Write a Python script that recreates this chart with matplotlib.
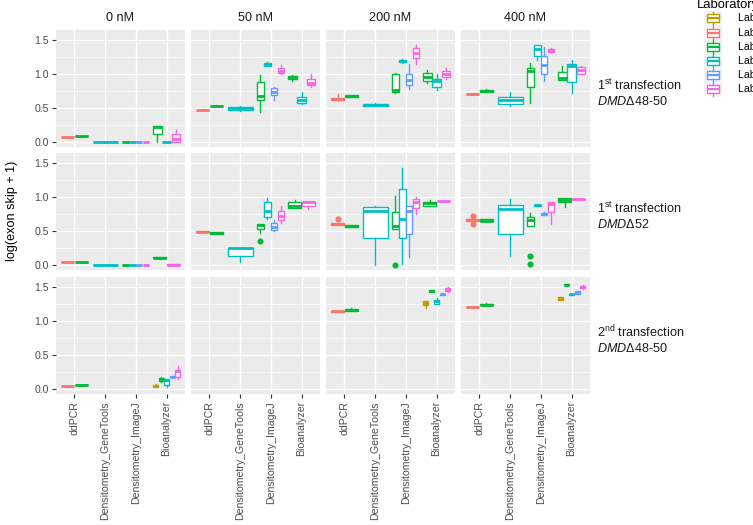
import matplotlib
matplotlib.use("Agg")
import matplotlib.pyplot as plt
from matplotlib.patches import Rectangle

plt.rcParams['font.family'] = ['Liberation Sans', 'DejaVu Sans']
plt.rcParams['mathtext.fontset'] = 'custom'
plt.rcParams['mathtext.rm'] = 'Liberation Sans'
plt.rcParams['mathtext.it'] = 'Liberation Sans:italic'

# ---------------- data ----------------
CATEGORIES = ["ddPCR", "Densitometry_GeneTools", "Densitometry_ImageJ", "Bioanalyzer"]
CONCS = ["0 nM", "50 nM", "200 nM", "400 nM"]
ROW_LINE1 = [r"1$^{\rm st}$ transfection", r"1$^{\rm st}$ transfection", r"2$^{\rm nd}$ transfection"]
ROW_LINE2 = [r"$\it{DMD}$Δ48-50", r"$\it{DMD}$Δ52", r"$\it{DMD}$Δ48-50"]
LABS = ["Lab 1", "Lab 2", "Lab 3", "Lab 4", "Lab 5", "Lab 6"]
LAB_COLORS = ["#B79F00", "#F8766D", "#00BA38", "#00BFC4", "#619CFF", "#F564E3"]
Y_TICKS = [0.0, 0.5, 1.0, 1.5]
Y_TICK_LABELS = ["0.0", "0.5", "1.0", "1.5"]

# each entry: (category, lab, whisker_low, q1, median, q3, whisker_high, outliers)
r1_0nM = [
    ("ddPCR", "Lab 2", 0.065, 0.068, 0.07, 0.072, 0.075, []),
    ("ddPCR", "Lab 3", 0.075, 0.078, 0.08, 0.082, 0.085, []),
    ("Densitometry_GeneTools", "Lab 4", 0, 0, 0, 0, 0, []),
    ("Densitometry_ImageJ", "Lab 3", 0, 0, 0, 0, 0, []),
    ("Densitometry_ImageJ", "Lab 4", 0, 0, 0, 0, 0, []),
    ("Densitometry_ImageJ", "Lab 5", 0, 0, 0, 0, 0, []),
    ("Densitometry_ImageJ", "Lab 6", 0, 0, 0, 0, 0, []),
    ("Bioanalyzer", "Lab 3", 0.0, 0.12, 0.21, 0.23, 0.23, []),
    ("Bioanalyzer", "Lab 4", 0, 0, 0, 0, 0, []),
    ("Bioanalyzer", "Lab 6", 0.0, 0.0, 0.04, 0.11, 0.17, []),
]
r1_50nM = [
    ("ddPCR", "Lab 2", 0.465, 0.468, 0.47, 0.472, 0.475, []),
    ("ddPCR", "Lab 3", 0.525, 0.528, 0.53, 0.532, 0.535, []),
    ("Densitometry_GeneTools", "Lab 4", 0.45, 0.47, 0.49, 0.51, 0.52, []),
    ("Densitometry_ImageJ", "Lab 3", 0.44, 0.62, 0.67, 0.88, 0.98, []),
    ("Densitometry_ImageJ", "Lab 4", 1.11, 1.12, 1.14, 1.16, 1.17, []),
    ("Densitometry_ImageJ", "Lab 5", 0.62, 0.69, 0.74, 0.79, 0.81, []),
    ("Densitometry_ImageJ", "Lab 6", 1.0, 1.01, 1.04, 1.08, 1.13, []),
    ("Bioanalyzer", "Lab 3", 0.90, 0.93, 0.95, 0.97, 0.98, []),
    ("Bioanalyzer", "Lab 4", 0.56, 0.57, 0.61, 0.66, 0.74, []),
    ("Bioanalyzer", "Lab 6", 0.80, 0.83, 0.87, 0.92, 1.0, []),
]
r1_200nM = [
    ("ddPCR", "Lab 2", 0.60, 0.61, 0.63, 0.65, 0.71, []),
    ("ddPCR", "Lab 3", 0.66, 0.665, 0.67, 0.685, 0.69, []),
    ("Densitometry_GeneTools", "Lab 4", 0.525, 0.53, 0.545, 0.555, 0.565, []),
    ("Densitometry_ImageJ", "Lab 3", 0.72, 0.74, 0.76, 1.0, 1.02, []),
    ("Densitometry_ImageJ", "Lab 4", 1.16, 1.17, 1.19, 1.21, 1.22, []),
    ("Densitometry_ImageJ", "Lab 5", 0.78, 0.83, 0.91, 1.0, 1.14, []),
    ("Densitometry_ImageJ", "Lab 6", 1.15, 1.24, 1.31, 1.38, 1.43, []),
    ("Bioanalyzer", "Lab 3", 0.87, 0.90, 0.96, 1.01, 1.05, []),
    ("Bioanalyzer", "Lab 4", 0.76, 0.80, 0.89, 0.93, 1.0, []),
    ("Bioanalyzer", "Lab 6", 0.93, 0.95, 1.0, 1.04, 1.08, []),
]
r1_400nM = [
    ("ddPCR", "Lab 2", 0.695, 0.698, 0.70, 0.702, 0.705, []),
    ("ddPCR", "Lab 3", 0.735, 0.74, 0.75, 0.765, 0.77, []),
    ("Densitometry_GeneTools", "Lab 4", 0.53, 0.55, 0.62, 0.66, 0.73, []),
    ("Densitometry_ImageJ", "Lab 3", 0.57, 0.81, 1.04, 1.08, 1.16, []),
    ("Densitometry_ImageJ", "Lab 4", 1.21, 1.26, 1.37, 1.42, 1.43, []),
    ("Densitometry_ImageJ", "Lab 5", 0.90, 1.0, 1.13, 1.26, 1.39, []),
    ("Densitometry_ImageJ", "Lab 6", 1.32, 1.33, 1.35, 1.37, 1.38, []),
    ("Bioanalyzer", "Lab 3", 0.91, 0.91, 0.94, 1.03, 1.12, []),
    ("Bioanalyzer", "Lab 4", 0.72, 0.88, 1.12, 1.15, 1.2, []),
    ("Bioanalyzer", "Lab 6", 1.0, 1.0, 1.05, 1.10, 1.12, []),
]
r2_0nM = [
    ("ddPCR", "Lab 2", 0.035, 0.038, 0.04, 0.042, 0.045, []),
    ("ddPCR", "Lab 3", 0.035, 0.038, 0.04, 0.042, 0.045, []),
    ("Densitometry_GeneTools", "Lab 4", 0, 0, 0, 0, 0, []),
    ("Densitometry_ImageJ", "Lab 3", 0, 0, 0, 0, 0, []),
    ("Densitometry_ImageJ", "Lab 4", 0, 0, 0, 0, 0, []),
    ("Densitometry_ImageJ", "Lab 5", 0, 0, 0, 0, 0, []),
    ("Densitometry_ImageJ", "Lab 6", 0, 0, 0, 0, 0, []),
    ("Bioanalyzer", "Lab 3", 0.09, 0.10, 0.10, 0.11, 0.12, []),
    ("Bioanalyzer", "Lab 6", 0.0, 0.0, 0.0, 0.01, 0.01, []),
]
r2_50nM = [
    ("ddPCR", "Lab 2", 0.48, 0.48, 0.485, 0.49, 0.49, []),
    ("ddPCR", "Lab 3", 0.45, 0.455, 0.47, 0.48, 0.48, []),
    ("Densitometry_GeneTools", "Lab 4", 0.035, 0.13, 0.24, 0.245, 0.245, []),
    ("Densitometry_ImageJ", "Lab 3", 0.47, 0.525, 0.59, 0.60, 0.60, [0.35]),
    ("Densitometry_ImageJ", "Lab 4", 0.67, 0.70, 0.79, 0.92, 0.98, []),
    ("Densitometry_ImageJ", "Lab 5", 0.49, 0.515, 0.56, 0.62, 0.66, []),
    ("Densitometry_ImageJ", "Lab 6", 0.62, 0.66, 0.72, 0.79, 0.86, []),
    ("Bioanalyzer", "Lab 3", 0.83, 0.83, 0.86, 0.92, 0.95, []),
    ("Bioanalyzer", "Lab 6", 0.82, 0.87, 0.92, 0.93, 0.93, []),
]
r2_200nM = [
    ("ddPCR", "Lab 2", 0.59, 0.59, 0.60, 0.62, 0.62, [0.67]),
    ("ddPCR", "Lab 3", 0.56, 0.56, 0.57, 0.59, 0.59, []),
    ("Densitometry_GeneTools", "Lab 4", 0.0, 0.40, 0.79, 0.845, 0.87, []),
    ("Densitometry_ImageJ", "Lab 3", 0.525, 0.525, 0.575, 0.78, 1.01, [0.0]),
    ("Densitometry_ImageJ", "Lab 4", 0.01, 0.40, 0.68, 1.11, 1.42, []),
    ("Densitometry_ImageJ", "Lab 5", 0.12, 0.45, 0.79, 0.86, 0.86, []),
    ("Densitometry_ImageJ", "Lab 6", 0.745, 0.83, 0.92, 0.97, 1.0, []),
    ("Bioanalyzer", "Lab 3", 0.87, 0.87, 0.91, 0.93, 0.96, []),
    ("Bioanalyzer", "Lab 6", 0.93, 0.935, 0.94, 0.945, 0.95, []),
]
r2_400nM = [
    ("ddPCR", "Lab 2", 0.63, 0.64, 0.66, 0.68, 0.68, [0.60, 0.72]),
    ("ddPCR", "Lab 3", 0.64, 0.64, 0.65, 0.67, 0.67, []),
    ("Densitometry_GeneTools", "Lab 4", 0.13, 0.45, 0.82, 0.88, 0.97, []),
    ("Densitometry_ImageJ", "Lab 3", 0.575, 0.575, 0.66, 0.71, 0.76, [0.125, 0.01]),
    ("Densitometry_ImageJ", "Lab 4", 0.86, 0.865, 0.875, 0.885, 0.89, []),
    ("Densitometry_ImageJ", "Lab 5", 0.735, 0.74, 0.75, 0.765, 0.77, []),
    ("Densitometry_ImageJ", "Lab 6", 0.60, 0.77, 0.90, 0.93, 0.93, []),
    ("Bioanalyzer", "Lab 3", 0.85, 0.92, 0.96, 0.99, 0.99, []),
    ("Bioanalyzer", "Lab 6", 0.96, 0.965, 0.97, 0.975, 0.98, []),
]
r3_0nM = [
    ("ddPCR", "Lab 2", 0.03, 0.033, 0.035, 0.037, 0.04, []),
    ("ddPCR", "Lab 3", 0.045, 0.048, 0.05, 0.052, 0.055, []),
    ("Bioanalyzer", "Lab 1", 0.025, 0.03, 0.045, 0.06, 0.065, []),
    ("Bioanalyzer", "Lab 3", 0.10, 0.11, 0.15, 0.16, 0.18, []),
    ("Bioanalyzer", "Lab 4", 0.02, 0.06, 0.13, 0.145, 0.145, []),
    ("Bioanalyzer", "Lab 5", 0.17, 0.17, 0.18, 0.19, 0.19, []),
    ("Bioanalyzer", "Lab 6", 0.15, 0.17, 0.26, 0.27, 0.33, []),
]
r3_50nM = []
r3_200nM = [
    ("ddPCR", "Lab 2", 1.13, 1.13, 1.14, 1.15, 1.15, []),
    ("ddPCR", "Lab 3", 1.14, 1.145, 1.16, 1.175, 1.19, []),
    ("Bioanalyzer", "Lab 1", 1.19, 1.23, 1.26, 1.30, 1.30, []),
    ("Bioanalyzer", "Lab 3", 1.42, 1.43, 1.44, 1.46, 1.46, []),
    ("Bioanalyzer", "Lab 4", 1.25, 1.25, 1.29, 1.31, 1.34, []),
    ("Bioanalyzer", "Lab 5", 1.375, 1.38, 1.39, 1.40, 1.41, []),
    ("Bioanalyzer", "Lab 6", 1.43, 1.44, 1.46, 1.48, 1.50, []),
]
r3_400nM = [
    ("ddPCR", "Lab 2", 1.195, 1.198, 1.20, 1.202, 1.205, []),
    ("ddPCR", "Lab 3", 1.23, 1.235, 1.24, 1.255, 1.26, []),
    ("Bioanalyzer", "Lab 1", 1.31, 1.315, 1.33, 1.35, 1.355, []),
    ("Bioanalyzer", "Lab 3", 1.53, 1.53, 1.535, 1.54, 1.54, []),
    ("Bioanalyzer", "Lab 4", 1.375, 1.38, 1.39, 1.40, 1.40, []),
    ("Bioanalyzer", "Lab 5", 1.39, 1.40, 1.42, 1.44, 1.44, []),
    ("Bioanalyzer", "Lab 6", 1.47, 1.48, 1.50, 1.52, 1.53, []),
]
PANELS = [
    [r1_0nM, r1_50nM, r1_200nM, r1_400nM],
    [r2_0nM, r2_50nM, r2_200nM, r2_400nM],
    [r3_0nM, r3_50nM, r3_200nM, r3_400nM],
]

# ---------------- layout ----------------
W, H = 753, 525
DPI = 100
PT = 72.0 / DPI
fig = plt.figure(figsize=(W / DPI, H / DPI), dpi=DPI)
fig.patch.set_facecolor("white")

COL_LEFT = [56, 191, 326, 461]
COL_W = 129
ROW_TOP = [30, 153, 277]
ROW_H = 117
YLIM = (-0.078, 1.647)

TICK_FS = 10.5 * PT
STRIP_FS = 12.6 * PT
TITLE_FS = 13.0 * PT
lab_color = dict(zip(LABS, LAB_COLORS))


def draw_box(ax, pos, width, stat, color):
    lo, q1, med, q3, hi, out = stat
    stats = [dict(whislo=lo, q1=q1, med=med, q3=q3, whishi=hi, fliers=out)]
    ax.bxp(stats, positions=[pos], widths=[width], patch_artist=True,
           showcaps=False, manage_ticks=False,
           boxprops=dict(facecolor="white", edgecolor=color, linewidth=1.0),
           medianprops=dict(color=color, linewidth=2.0, solid_capstyle="butt"),
           whiskerprops=dict(color=color, linewidth=1.0),
           flierprops=dict(marker="o", markerfacecolor=color, markeredgecolor=color,
                           markersize=3.4, linestyle="none"))


for r in range(3):
    for c in range(4):
        left = COL_LEFT[c]
        top = ROW_TOP[r]
        ax = fig.add_axes([left / W, 1 - (top + ROW_H) / H, COL_W / W, ROW_H / H])
        ax.set_facecolor("#EBEBEB")
        for s in ax.spines.values():
            s.set_visible(False)
        ax.set_xlim(-0.6, len(CATEGORIES) - 0.4)
        ax.set_ylim(*YLIM)
        # grid
        for yv in [0.25, 0.75, 1.25]:
            ax.axhline(yv, color="white", lw=0.5, zorder=0.5)
        for yv in Y_TICKS:
            ax.axhline(yv, color="white", lw=0.95, zorder=0.6)
        for xi in range(len(CATEGORIES)):
            ax.axvline(xi, color="white", lw=0.95, zorder=0.6)

        data = PANELS[r][c]
        for ci, cat in enumerate(CATEGORIES):
            entries = [e for e in data if e[0] == cat]
            n = len(entries)
            for k, e in enumerate(entries):
                pos = ci - 0.45 + (k + 0.5) * 0.9 / n
                draw_box(ax, pos, 0.9 / n * 0.9, e[2:], lab_color[e[1]])

        ax.set_xticks(range(len(CATEGORIES)))
        ax.set_yticks(Y_TICKS)
        ax.tick_params(axis="both", length=3.2, width=0.8, color="#333333",
                       labelsize=TICK_FS, labelcolor="#4D4D4D", pad=2)
        if c == 0:
            ax.set_yticklabels(Y_TICK_LABELS)
        else:
            ax.tick_params(axis="y", length=0, labelleft=False)
        if r == 2:
            ax.set_xticklabels(CATEGORIES, rotation=90, ha="center", va="top")
        else:
            ax.tick_params(axis="x", length=0, labelbottom=False)

        if r == 0:
            fig.text((left + COL_W / 2) / W, 1 - 18 / H, CONCS[c], ha="center",
                     va="center", fontsize=STRIP_FS, color="#1A1A1A")
    mid = ROW_TOP[r] + ROW_H / 2
    fig.text(597 / W, 1 - (mid - 3.5) / H, ROW_LINE1[r], ha="left", va="center",
             fontsize=STRIP_FS, color="#1A1A1A")
    fig.text(597 / W, 1 - (mid + 13) / H, ROW_LINE2[r], ha="left", va="center",
             fontsize=STRIP_FS, color="#1A1A1A")

# y axis title
fig.text(12 / W, 1 - 211 / H, "log(exon skip + 1)", rotation=90, ha="center",
         va="center", fontsize=STRIP_FS, color="black")

# ---------------- legend (manual, ggplot style) ----------------
lax = fig.add_axes([0, 0, 1, 1], zorder=-1)
lax.set_xlim(0, W)
lax.set_ylim(H, 0)
lax.axis("off")
fig.text(697 / W, 1 - 8 / H, "Laboratory", ha="left", va="baseline",
         fontsize=TITLE_FS, color="black")
KEY_H = 14.2
key_x0, key_x1 = 704, 722
for i, (lab, col) in enumerate(zip(LABS, LAB_COLORS)):
    cy = 18.3 + i * KEY_H
    lax.add_patch(Rectangle((key_x0, cy - KEY_H / 2), key_x1 - key_x0, KEY_H,
                            facecolor="#F2F2F2", edgecolor="none"))
    bx0, bx1 = 707.5, 719
    lax.add_patch(Rectangle((bx0, cy - 4), bx1 - bx0, 8, facecolor="white",
                            edgecolor=col, linewidth=1.0))
    mx = (bx0 + bx1) / 2
    lax.plot([mx, mx], [cy - 6.5, cy - 4], color=col, lw=1.0)
    lax.plot([mx, mx], [cy + 4, cy + 6.5], color=col, lw=1.0)
    lax.plot([bx0, bx1], [cy, cy], color=col, lw=1.6, solid_capstyle="butt")
    lax.text(738, cy, lab, ha="left", va="center", fontsize=TICK_FS, color="black")

fig.savefig("out.png", dpi=DPI)
